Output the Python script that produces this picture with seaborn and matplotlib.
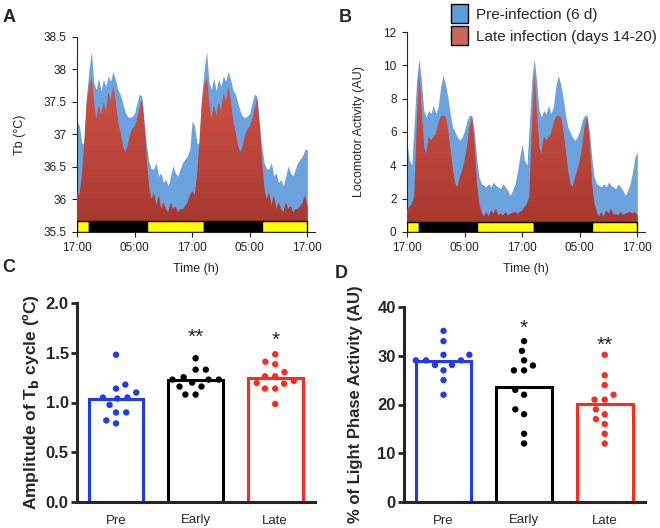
import numpy as np
import pandas as pd
import matplotlib
matplotlib.use("Agg")
import matplotlib.pyplot as plt
import seaborn as sns
from matplotlib.patches import Patch
from matplotlib.colors import LinearSegmentedColormap

sns.set_style("ticks")
plt.rcParams['font.family'] = ['Liberation Sans', 'DejaVu Sans']

# 30-min bins over one day starting 17:00 (the traces are double plotted)
tb_pre = [37.21, 37.13, 36.87, 36.85, 37.60, 38.00, 38.28, 37.80, 37.69, 37.87, 37.67, 37.85,
          37.74, 37.90, 37.82, 37.97, 37.85, 37.69, 37.62, 37.49, 37.36, 37.28, 37.26, 37.28,
          37.33, 37.49, 37.62, 37.59, 37.18, 36.82, 36.57, 36.47, 36.47, 36.57, 36.36, 36.41,
          36.26, 36.31, 36.21, 36.36, 36.52, 36.41, 36.36, 36.47, 36.57, 36.62, 36.67, 36.77]
tb_late = [36.13, 36.06, 36.36, 36.87, 37.49, 37.75, 37.87, 37.45, 37.23, 37.44, 37.28, 37.49,
           37.33, 37.64, 37.49, 37.74, 37.49, 37.18, 37.03, 36.82, 36.72, 36.82, 36.98, 37.08,
           37.13, 37.23, 37.39, 37.54, 37.13, 36.57, 36.16, 36.00, 36.10, 35.90, 36.06, 35.85,
           35.95, 35.85, 35.80, 35.95, 35.85, 35.90, 35.80, 35.85, 35.85, 35.90, 35.95, 36.06]
act_pre = [5.3, 4.3, 4.0, 6.5, 9.1, 10.4, 9.1, 7.3, 6.9, 7.3, 7.1, 7.6,
           7.1, 7.5, 8.7, 9.4, 8.9, 8.1, 7.1, 6.3, 6.0, 5.7, 5.5, 5.7,
           6.1, 6.7, 7.0, 7.0, 6.1, 4.5, 3.3, 2.9, 2.8, 2.7, 2.9, 2.7,
           3.0, 2.8, 2.7, 2.6, 2.9, 2.7, 2.5, 2.2, 2.5, 2.9, 3.6, 4.5]
act_late = [1.3, 1.5, 1.7, 2.1, 6.1, 9.5, 7.1, 5.1, 4.7, 5.7, 5.5, 5.7,
            5.9, 6.5, 6.9, 7.0, 6.9, 6.1, 4.9, 3.7, 2.9, 2.7, 3.3, 3.7,
            4.3, 5.1, 6.3, 6.9, 5.3, 2.9, 1.7, 1.2, 0.9, 1.2, 0.9, 1.3,
            1.1, 1.4, 1.0, 1.1, 1.0, 1.2, 1.0, 1.1, 1.15, 1.2, 1.1, 1.2]
tb_end = [36.77, 35.88]      # last point (17:00, day 3) pre / late
act_end = [4.8, 1.0]

# light / dark bar (hours after 17:00)
ld_edges = [0, 2.4, 14.5, 26.4, 38.5, 48]
ld_colors = ['#FFFF00', 'black', '#FFFF00', 'black', '#FFFF00']
time_ticks = [0, 12, 24, 36, 48]
time_labels = ['17:00', '05:00', '17:00', '05:00', '17:00']

# panel C / D
groups = ['Pre', 'Early', 'Late']
amp_pre = [1.48, 1.18, 1.14, 1.10, 1.05, 1.04, 1.05, 0.976, 0.90, 0.90, 0.82, 0.79]
amp_early = [1.445, 1.33, 1.33, 1.23, 1.23, 1.23, 1.254, 1.16, 1.20, 1.16, 1.08, 1.08]
amp_late = [1.485, 1.41, 1.385, 1.305, 1.264, 1.264, 1.197, 1.217, 1.19, 1.14, 1.14, 0.986]
light_pre = [35.1, 33.0, 30.2, 30.2, 29.05, 29.05, 29.05, 28.1, 28.1, 27.0, 25.0, 22.0]
light_early = [33.0, 31.0, 29.05, 28.0, 27.0, 27.0, 23.0, 22.0, 19.0, 18.0, 14.0, 12.0]
light_late = [30.2, 26.0, 24.0, 22.0, 21.0, 21.0, 19.0, 18.0, 17.0, 16.0, 14.0, 12.0]
amp_stars = {'Early': ('**', 1.56), 'Late': ('*', 1.53)}
light_stars = {'Early': ('*', 33.6), 'Late': ('**', 30.2)}

blue_area = '#6CA2DD'
red_grad = LinearSegmentedColormap.from_list('red_grad', ['#A5372D', '#DC5B4F'])
pal = {'Pre': '#1F3BEB', 'Early': 'black', 'Late': '#FF2A1F'}


def double_plot(day, end):
    return np.array(day + day + [end])


def time_panel(ax, pre, late, ymin, ymax, bar_top, yticks, ylabels, ylabel):
    hours = np.arange(len(pre)) * 0.5
    ax.fill_between(hours, ymin, pre, color=blue_area, lw=0, zorder=1)
    red = ax.fill_between(hours, ymin, late, color='#C04A3F', lw=0, zorder=2)
    im = ax.imshow(np.linspace(0, 1, 200).reshape(-1, 1), extent=(0, 48, ymin, ymax),
                   origin='lower', aspect='auto', cmap=red_grad, zorder=3)
    im.set_clip_path(red.get_paths()[0], transform=ax.transData)
    bars = [(a, b - a) for a, b in zip(ld_edges[:-1], ld_edges[1:])]
    ax.broken_barh(bars, (ymin, bar_top - ymin), facecolors=ld_colors,
                   edgecolor='black', lw=1.0, zorder=4)
    ax.set_xlim(0, 49.6)
    ax.set_ylim(ymin, ymax)
    ax.set_xticks(time_ticks, time_labels)
    ax.set_yticks(yticks, ylabels)
    ax.tick_params(labelsize=8.5, length=3.5, width=0.8, pad=4, colors='#222222')
    ax.set_xlabel('Time (h)', fontsize=9, labelpad=6)
    ax.set_ylabel(ylabel, fontsize=9, labelpad=13)
    for s in ['left', 'bottom']:
        ax.spines[s].set_linewidth(0.8)
    sns.despine(ax=ax)


def bar_panel(ax, values, stars, ymax, yticks, ylabel, label_size, label_pad):
    df = pd.DataFrame({'group': np.repeat(groups, [len(v) for v in values]),
                       'value': np.concatenate(values)})
    sns.barplot(data=df, x='group', y='value', hue='group', palette=pal, order=groups,
                errorbar=None, fill=False, width=0.69, linewidth=2.2, legend=False, ax=ax)
    # laid out with a wide marker so the swarm spacing matches, shrunk after layout
    sns.swarmplot(data=df, x='group', y='value', hue='group', palette=pal, order=groups,
                  size=7, legend=False, ax=ax)
    for g, (s, y) in stars.items():
        ax.text(groups.index(g), y, s, ha='center', va='bottom', fontsize=15)
    ax.set_xlim(-0.49, 2.5)
    ax.set_ylim(0, ymax)
    ax.set_yticks(yticks)
    ax.set_xlabel('')
    ax.set_ylabel(ylabel, fontsize=label_size, fontweight='bold', labelpad=label_pad)
    ax.tick_params(axis='y', labelsize=12, width=2, length=4, pad=2)
    ax.tick_params(axis='x', labelsize=9.5, length=0, pad=9)
    for s in ['left', 'bottom']:
        ax.spines[s].set_linewidth(2.2)
    sns.despine(ax=ax)


fig = plt.figure(figsize=(6.6, 5.28), dpi=100)
W, H = 660, 528


def axes_px(left, top, right, bottom):
    return fig.add_axes([left / W, 1 - bottom / H, (right - left) / W, (bottom - top) / H])


ax_a = axes_px(77, 37, 315, 232)
time_panel(ax_a, double_plot(tb_pre, tb_end[0]), double_plot(tb_late, tb_end[1]),
           35.5, 38.5, 35.67, np.arange(35.5, 38.51, 0.5),
           ['35.5', '36', '36.5', '37', '37.5', '38', '38.5'], 'Tb (°C)')

ax_b = axes_px(407, 32, 645, 232)
time_panel(ax_b, double_plot(act_pre, act_end[0]), double_plot(act_late, act_end[1]),
           0, 12, 0.62, np.arange(0, 13, 2), [str(v) for v in range(0, 13, 2)],
           'Locomotor Activity (AU)')

ax_c = axes_px(77, 303, 315, 502)
bar_panel(ax_c, [amp_pre, amp_early, amp_late], amp_stars, 2.0, [0.0, 0.5, 1.0, 1.5, 2.0],
          'Amplitude of T$_\\mathbf{b}$ cycle (ºC)', 12.5, 3)
ax_c.set_yticklabels(['0.0', '0.5', '1.0', '1.5', '2.0'], fontweight='bold')

ax_d = axes_px(404, 307, 645, 502)
bar_panel(ax_d, [light_pre, light_early, light_late], light_stars, 40, [0, 10, 20, 30, 40],
          '% of Light Phase Activity (AU)', 12, 10)
ax_d.set_yticklabels(['0', '10', '20', '30', '40'], fontweight='bold')

fig.legend(handles=[Patch(facecolor='#5E9BD9', edgecolor='black', lw=1.0, label='Pre-infection (6 d)'),
                    Patch(facecolor='#CC6560', edgecolor='black', lw=1.0, label='Late infection (days 14-20)')],
           loc='upper left', bbox_to_anchor=(451 / W, 1 - 4 / H), frameon=False, fontsize=11,
           handlelength=1.1, handleheight=1.55, handletextpad=0.55, labelspacing=0.2,
           borderpad=0, borderaxespad=0)

for letter, x, y in [('A', 9, 17), ('B', 345, 17), ('C', 9, 268), ('D', 341, 273)]:
    fig.text(x / W, 1 - y / H, letter, fontsize=13, fontweight='bold', ha='center', va='center')

# fix the swarm positions, then draw the dots at their real size
fig.canvas.draw()
for ax in (ax_c, ax_d):
    for pts in ax.collections:
        pts.__dict__.pop('draw', None)
        pts.set_sizes([4.6 ** 2])

fig.savefig('out.png', dpi=100)
